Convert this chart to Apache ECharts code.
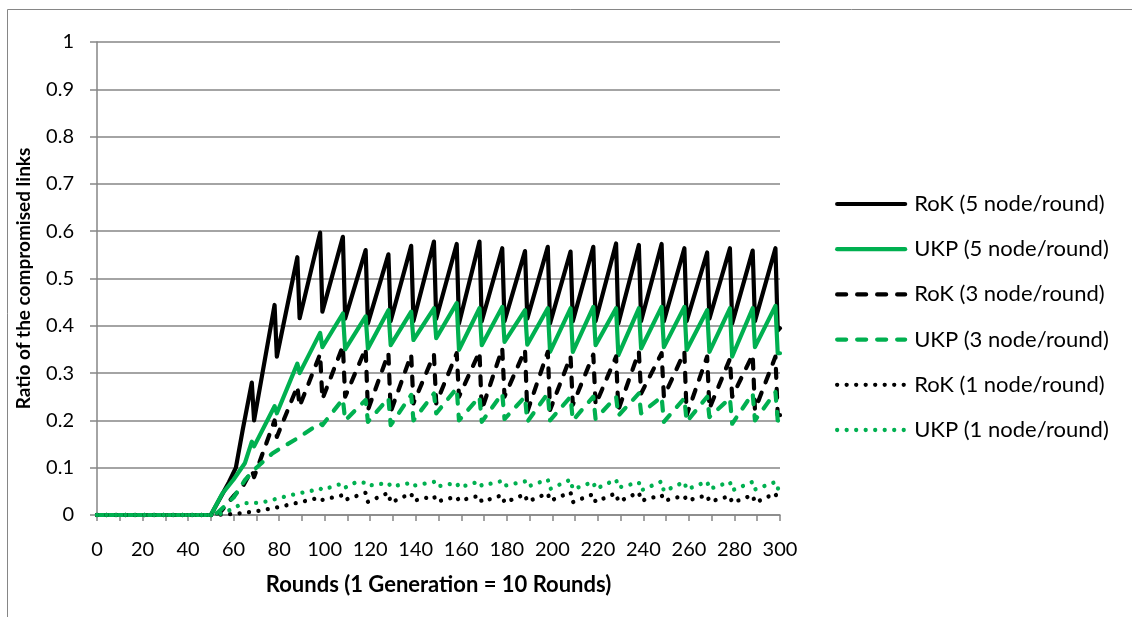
<!DOCTYPE html>
<html>
<head>
<meta charset="utf-8">
<script src="https://cdn.jsdelivr.net/npm/echarts@6/dist/echarts.min.js"></script>
<style>
html,body{margin:0;padding:0;background:#fff;}
#chart{width:1132px;height:617px;}
</style>
</head>
<body>
<div id="chart"></div>
<script>
// ---- data (rounds, ratio) : vertices ----
const seriesNames = ['RoK (5 node/round)','UKP (5 node/round)','RoK (3 node/round)','UKP (3 node/round)','RoK (1 node/round)','UKP (1 node/round)'];

const rok5 = [[0,0],[50,0],[58,0.07],[61,0.1],[64,0.18],[68,0.28],[69,0.2],[78,0.444],[79,0.335],[88,0.545],[89,0.416],[98,0.597],[99,0.43],[108,0.588],[109,0.415],[118,0.56],[119,0.405],[128,0.551],[129,0.41],[138,0.569],[139,0.41],[148,0.578],[149,0.415],[158,0.573],[159,0.405],[168,0.578],[169,0.41],[178,0.564],[179,0.41],[188,0.558],[189,0.415],[198,0.567],[199,0.405],[208,0.557],[209,0.41],[218,0.567],[219,0.41],[228,0.574],[229,0.405],[238,0.571],[239,0.41],[248,0.573],[249,0.41],[258,0.564],[259,0.41],[268,0.555],[269,0.415],[278,0.564],[279,0.405],[288,0.559],[289,0.41],[298,0.564],[299,0.39],[300,0.395]];

const ukp5 = [[0,0],[50,0],[55,0.045],[60,0.075],[65,0.11],[68,0.155],[69,0.145],[78,0.23],[79,0.215],[88,0.32],[89,0.3],[98,0.385],[99,0.355],[108,0.426],[109,0.35],[118,0.42],[119,0.352],[128,0.433],[129,0.359],[138,0.43],[139,0.37],[148,0.437],[149,0.374],[158,0.448],[159,0.349],[168,0.437],[169,0.359],[178,0.44],[179,0.366],[188,0.433],[189,0.36],[198,0.437],[199,0.345],[208,0.437],[209,0.345],[218,0.44],[219,0.359],[228,0.437],[229,0.338],[238,0.437],[239,0.352],[248,0.44],[249,0.355],[258,0.44],[259,0.349],[268,0.433],[269,0.345],[278,0.437],[279,0.335],[288,0.437],[289,0.355],[298,0.442],[299,0.342],[300,0.342]];

const rok3 = [[0,0],[50,0],[54,0.005],[60,0.04],[64,0.06],[68,0.095],[69,0.08],[78,0.2],[79,0.165],[88,0.272],[89,0.23],[98,0.34],[99,0.245],[108,0.357],[109,0.25],[118,0.352],[119,0.222],[128,0.342],[129,0.218],[138,0.339],[139,0.236],[148,0.339],[149,0.236],[158,0.342],[159,0.25],[168,0.345],[169,0.222],[178,0.352],[179,0.25],[188,0.349],[189,0.218],[198,0.345],[199,0.222],[208,0.335],[209,0.233],[218,0.339],[219,0.233],[228,0.335],[229,0.222],[238,0.345],[239,0.257],[248,0.342],[249,0.25],[258,0.345],[259,0.211],[268,0.335],[269,0.225],[278,0.33],[279,0.25],[288,0.339],[289,0.222],[298,0.335],[299,0.211],[300,0.211]];

const ukp3 = [[0,0],[50,0],[53,0.005],[60,0.037],[65,0.074],[70,0.1],[77,0.13],[82,0.145],[88,0.162],[98,0.194],[99,0.19],[108,0.245],[109,0.2],[118,0.243],[119,0.197],[128,0.247],[129,0.19],[138,0.254],[139,0.2],[148,0.257],[149,0.215],[158,0.268],[159,0.2],[168,0.25],[169,0.197],[178,0.257],[179,0.203],[188,0.25],[189,0.197],[198,0.257],[199,0.2],[208,0.25],[209,0.2],[218,0.25],[219,0.203],[228,0.25],[229,0.21],[238,0.257],[239,0.215],[248,0.25],[249,0.197],[258,0.247],[259,0.197],[268,0.25],[269,0.207],[278,0.247],[279,0.193],[288,0.257],[289,0.2],[298,0.26],[299,0.2],[300,0.197]];

const rok1 = [[0,0],[50,0],[60,0.002],[70,0.008],[80,0.017],[90,0.028],[98,0.037],[99,0.032],[108,0.042],[109,0.032],[118,0.047],[119,0.028],[128,0.047],[129,0.026],[138,0.046],[139,0.03],[148,0.04],[149,0.028],[158,0.039],[159,0.03],[168,0.041],[169,0.028],[178,0.042],[179,0.026],[188,0.044],[189,0.028],[198,0.046],[199,0.03],[208,0.048],[209,0.027],[218,0.044],[219,0.028],[228,0.046],[229,0.028],[238,0.048],[239,0.03],[248,0.042],[249,0.03],[258,0.041],[259,0.03],[268,0.042],[269,0.028],[278,0.04],[279,0.026],[288,0.042],[289,0.026],[298,0.046],[299,0.028],[300,0.028]];

const ukp1 = [[0,0],[50,0],[55,0.003],[60,0.014],[64,0.025],[72,0.026],[77,0.032],[85,0.042],[94,0.051],[98,0.056],[99,0.053],[105,0.063],[108,0.066],[109,0.058],[114,0.07],[118,0.068],[119,0.062],[128,0.068],[129,0.06],[138,0.068],[139,0.062],[148,0.07],[149,0.06],[158,0.068],[159,0.058],[168,0.071],[169,0.062],[178,0.072],[179,0.062],[188,0.071],[189,0.06],[198,0.075],[199,0.055],[208,0.075],[209,0.054],[218,0.07],[219,0.055],[228,0.075],[229,0.058],[238,0.069],[239,0.052],[248,0.071],[249,0.05],[258,0.07],[259,0.054],[268,0.071],[269,0.055],[278,0.07],[279,0.052],[288,0.07],[289,0.054],[298,0.07],[299,0.056],[300,0.056]];

const xMin = 0, xMax = 300, xTickStep = 10, xLabelStep = 20;
const yMin = 0, yMax = 1, yTickStep = 0.1;

// ---- styles ----
const BLACK = '#000000', GREEN = '#00b050', GRID = '#868686';
const FONT = 'Lato';
const styles = [
  {color: BLACK, width: 4.2, type: 'solid'},
  {color: GREEN, width: 4.2, type: 'solid'},
  {color: BLACK, width: 4.2, type: [9, 11]},
  {color: GREEN, width: 4.2, type: [9, 11]},
  {color: BLACK, width: 4.3, type: [0.01, 9.5]},
  {color: GREEN, width: 4.3, type: [0.01, 9.5]}
];
const datasets = [rok5, ukp5, rok3, ukp3, rok1, ukp1];

const chart = echarts.init(document.getElementById('chart'), null, {renderer: 'canvas'});
chart.setOption({
  animation: false,
  backgroundColor: '#ffffff',
  textStyle: {fontFamily: FONT},
  graphic: [{
    type: 'rect', shape: {x: 7.5, y: 9.5, width: 1300, height: 800},
    style: {fill: 'none', stroke: GRID, lineWidth: 1}, silent: true, z: -10
  }],
  grid: {left: 97, right: 352, top: 42, bottom: 102, containLabel: false},
  legend: {
    orient: 'vertical', left: 835, top: 193, padding: 0,
    itemWidth: 68, itemHeight: 20, itemGap: 23.2,
    textStyle: {fontFamily: FONT, fontSize: 22, color: '#000', padding: [0, 0, 0, 4], lineHeight: 20},
    data: seriesNames.map((n, i) => ({
      name: n,
      itemStyle: {opacity: 0},
      lineStyle: {width: styles[i].width, type: styles[i].type, cap: 'round', color: styles[i].color}
    }))
  },
  xAxis: {
    type: 'value', min: xMin, max: xMax, interval: xTickStep,
    name: 'Rounds (1 Generation = 10 Rounds)', nameLocation: 'middle', nameGap: 59,
    nameTextStyle: {fontFamily: FONT, fontSize: 22, fontWeight: 'bold', color: '#000'},
    axisLine: {show: true, lineStyle: {color: GRID, width: 1.5}},
    axisTick: {show: true, length: 6, lineStyle: {color: GRID, width: 1.5}},
    axisLabel: {
      fontFamily: FONT, fontSize: 20, color: '#000', margin: 25,
      formatter: v => (v % xLabelStep === 0 ? String(v) : '')
    },
    splitLine: {show: false}
  },
  yAxis: {
    type: 'value', min: yMin, max: yMax, interval: yTickStep,
    name: 'Ratio of the compromised links', nameLocation: 'middle', nameGap: 64,
    nameTextStyle: {fontFamily: FONT, fontSize: 19, fontWeight: 'bold', color: '#000'},
    axisLine: {show: true, lineStyle: {color: GRID, width: 1.5}},
    axisTick: {show: true, length: 7, lineStyle: {color: GRID, width: 1.5}},
    axisLabel: {fontFamily: FONT, fontSize: 20, color: '#000', margin: 23,
      formatter: v => String(Math.round(v * 10) / 10)},
    splitLine: {show: true, lineStyle: {color: GRID, width: 1.5}}
  },
  series: datasets.map((d, i) => ({
    name: seriesNames[i], type: 'line', data: d,
    symbol: 'none', showSymbol: false, smooth: false, clip: false,
    lineStyle: {color: styles[i].color, width: styles[i].width, type: styles[i].type, cap: 'round', join: 'round'},
    itemStyle: {color: styles[i].color},
    emphasis: {disabled: true}
  }))
});
</script>
</body>
</html>
